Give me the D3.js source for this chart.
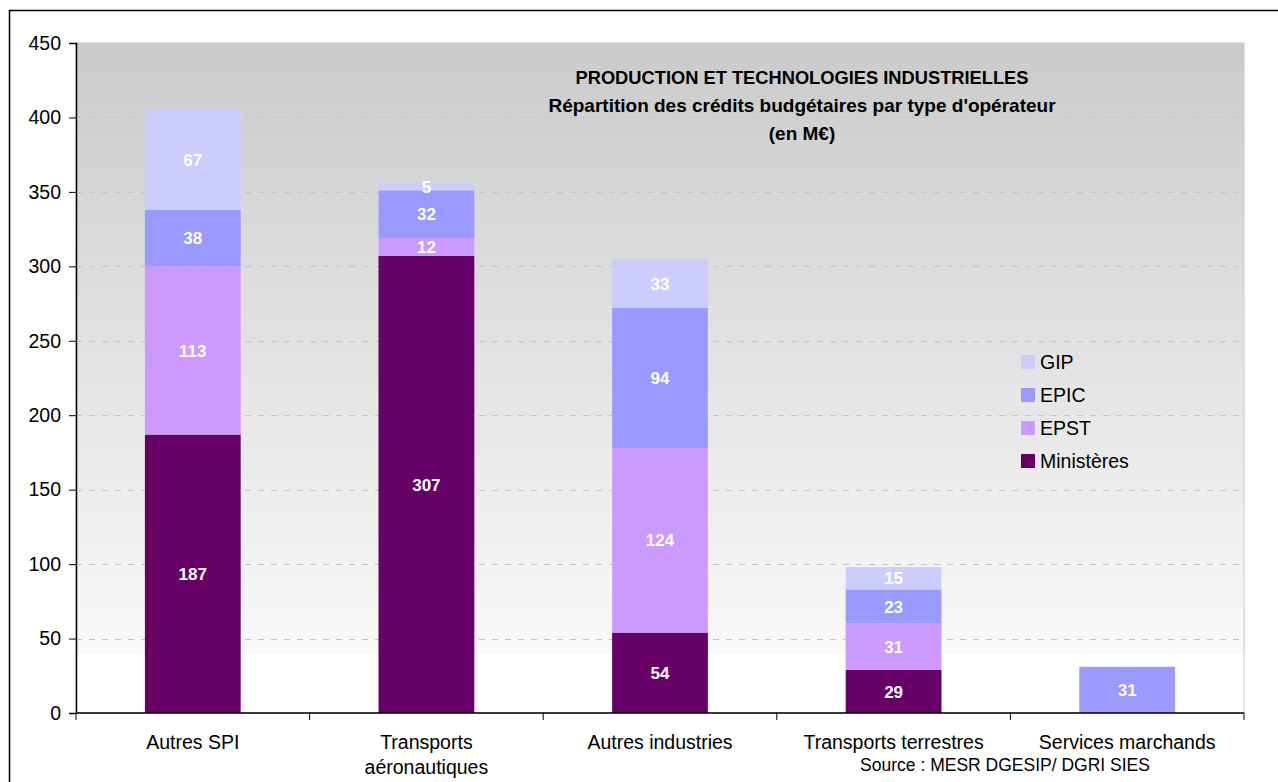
<!DOCTYPE html>
<html>
<head>
<meta charset="utf-8">
<script src="https://cdn.jsdelivr.net/npm/d3@7"></script>
<style>
  html, body { margin: 0; padding: 0; background: #fff; }
  svg { display: block; font-family: "Liberation Sans", Arial, sans-serif; }
</style>
</head>
<body>
<svg id="chart" width="1278" height="782"></svg>
<script>
// Budget credits by operator type (M€)
const categories = [["Autres SPI"], ["Transports", "aéronautiques"], ["Autres industries"], ["Transports terrestres"], ["Services marchands"]];
const seriesNames = ["Ministères", "EPST", "EPIC", "GIP"];
const ministeres = [187, 307, 54, 29, 0];
const epst = [113, 12, 124, 31, 0];
const epic = [38, 32, 94, 23, 31];
const gip = [67, 5, 33, 15, 0];
const yTicks = [0, 50, 100, 150, 200, 250, 300, 350, 400, 450];
const titleLines = ["PRODUCTION ET TECHNOLOGIES INDUSTRIELLES", "Répartition des crédits budgétaires par type d'opérateur", "(en M€)"];
const sourceText = "Source : MESR DGESIP/ DGRI SIES";

const colors = { "Ministères": "#660066", "EPST": "#cc99ff", "EPIC": "#9999ff", "GIP": "#ccccff" };

const svg = d3.select("#chart");
const plotL = 76, plotR = 1244, plotT = 43, plotB = 713;

// outer frame
svg.append("rect").attr("x", 9.5).attr("y", 10.5).attr("width", 1290).attr("height", 800)
  .attr("fill", "none").attr("stroke", "#000").attr("stroke-width", 1.5);

const keys = categories.map(c => c.join(" "));
const x = d3.scaleBand().domain(keys).range([plotL, plotR]).paddingInner(0.59).paddingOuter(0.295);
const xBand = d3.scaleBand().domain(keys).range([plotL, plotR]);
const y = d3.scaleLinear().domain([0, 450]).range([plotB, plotT]);

// plot background gradient
const defs = svg.append("defs");
const grad = defs.append("linearGradient").attr("id", "bg").attr("x1", 0).attr("y1", 0).attr("x2", 0).attr("y2", 1);
grad.append("stop").attr("offset", "0%").attr("stop-color", "#cbcbcb");
grad.append("stop").attr("offset", "100%").attr("stop-color", "#f9f9f9");
svg.append("rect").attr("x", plotL).attr("y", plotT).attr("width", plotR - plotL).attr("height", y(40) - plotT)
  .attr("fill", "url(#bg)");
svg.append("rect").attr("x", plotL).attr("y", plotT).attr("width", plotR - plotL).attr("height", plotB - plotT)
  .attr("fill", "none").attr("stroke", "#c8c8c8").attr("stroke-width", 1);

// gridlines
svg.append("g").selectAll("line").data(yTicks.filter(t => t > 0 && t < 450)).join("line")
  .attr("x1", plotL).attr("x2", plotR)
  .attr("y1", d => Math.round(y(d)) + 0.5).attr("y2", d => Math.round(y(d)) + 0.5)
  .attr("stroke", "#c4c4c4").attr("stroke-dasharray", "6,7");

// stacked bars
const rows = keys.map((k, i) => ({ key: k, "Ministères": ministeres[i], "EPST": epst[i], "EPIC": epic[i], "GIP": gip[i] }));
const stack = d3.stack().keys(seriesNames)(rows);
const layers = svg.append("g").selectAll("g").data(stack).join("g").attr("fill", d => colors[d.key]);
layers.selectAll("rect").data(d => d.filter(s => s[1] - s[0] > 0)).join("rect")
  .attr("x", d => x(d.data.key)).attr("width", x.bandwidth())
  .attr("y", d => y(d[1])).attr("height", d => y(d[0]) - y(d[1]));

// value labels
const labels = svg.append("g").attr("fill", "#fff").attr("font-weight", "bold").attr("font-size", 17).attr("text-anchor", "middle");
stack.forEach(layer => {
  layer.filter(s => s[1] - s[0] > 0).forEach(s => {
    labels.append("text")
      .attr("x", x(s.data.key) + x.bandwidth() / 2)
      .attr("y", y((s[0] + s[1]) / 2))
      .attr("dy", "0.36em")
      .text(s[1] - s[0]);
  });
});

// y axis
const yAxis = svg.append("g").attr("transform", `translate(${plotL},0)`)
  .call(d3.axisLeft(y).tickValues(yTicks).tickSize(7).tickPadding(8));
yAxis.select(".domain").attr("stroke", "#000").attr("stroke-width", 1.5);
yAxis.selectAll(".tick line").attr("stroke", "#000");
yAxis.selectAll("text").attr("font-size", 19.5).attr("fill", "#000").attr("font-family", "Liberation Sans, Arial, sans-serif");

// x axis
const xAxis = svg.append("g").attr("transform", `translate(0,${plotB})`);
xAxis.append("line").attr("x1", plotL).attr("x2", plotR).attr("stroke", "#000").attr("stroke-width", 1.5);
xAxis.selectAll("line.tk").data(d3.range(keys.length + 1)).join("line").attr("class", "tk")
  .attr("x1", i => plotL + i * xBand.bandwidth()).attr("x2", i => plotL + i * xBand.bandwidth())
  .attr("y1", 0).attr("y2", 7).attr("stroke", "#000");
categories.forEach((c, i) => {
  const cx = xBand(keys[i]) + xBand.bandwidth() / 2;
  const t = xAxis.append("text").attr("x", cx).attr("y", 36)
    .attr("text-anchor", "middle").attr("font-size", 19.5).attr("fill", "#000");
  c.forEach((line, j) => t.append("tspan").attr("x", cx).attr("dy", j ? 25 : 0).text(line));
});

// title
const title = svg.append("g").attr("font-weight", "bold").attr("text-anchor", "middle");
titleLines.forEach((t, i) => title.append("text").attr("x", 802).attr("y", 84 + i * 28)
  .attr("font-size", i === 0 ? 18.3 : 19).text(t));

// legend
const legend = svg.append("g").attr("transform", "translate(1021,362)");
seriesNames.slice().reverse().forEach((n, i) => {
  const g = legend.append("g").attr("transform", `translate(0,${i * 33})`);
  g.append("rect").attr("x", 0).attr("y", -7).attr("width", 14).attr("height", 14).attr("fill", colors[n]);
  g.append("text").attr("x", 19).attr("y", 0).attr("dy", "0.35em").attr("font-size", 19.5).text(n);
});

// source
svg.append("text").attr("x", 1005).attr("y", 771).attr("text-anchor", "middle").attr("font-size", 17.5).text(sourceText);
</script>
</body>
</html>
